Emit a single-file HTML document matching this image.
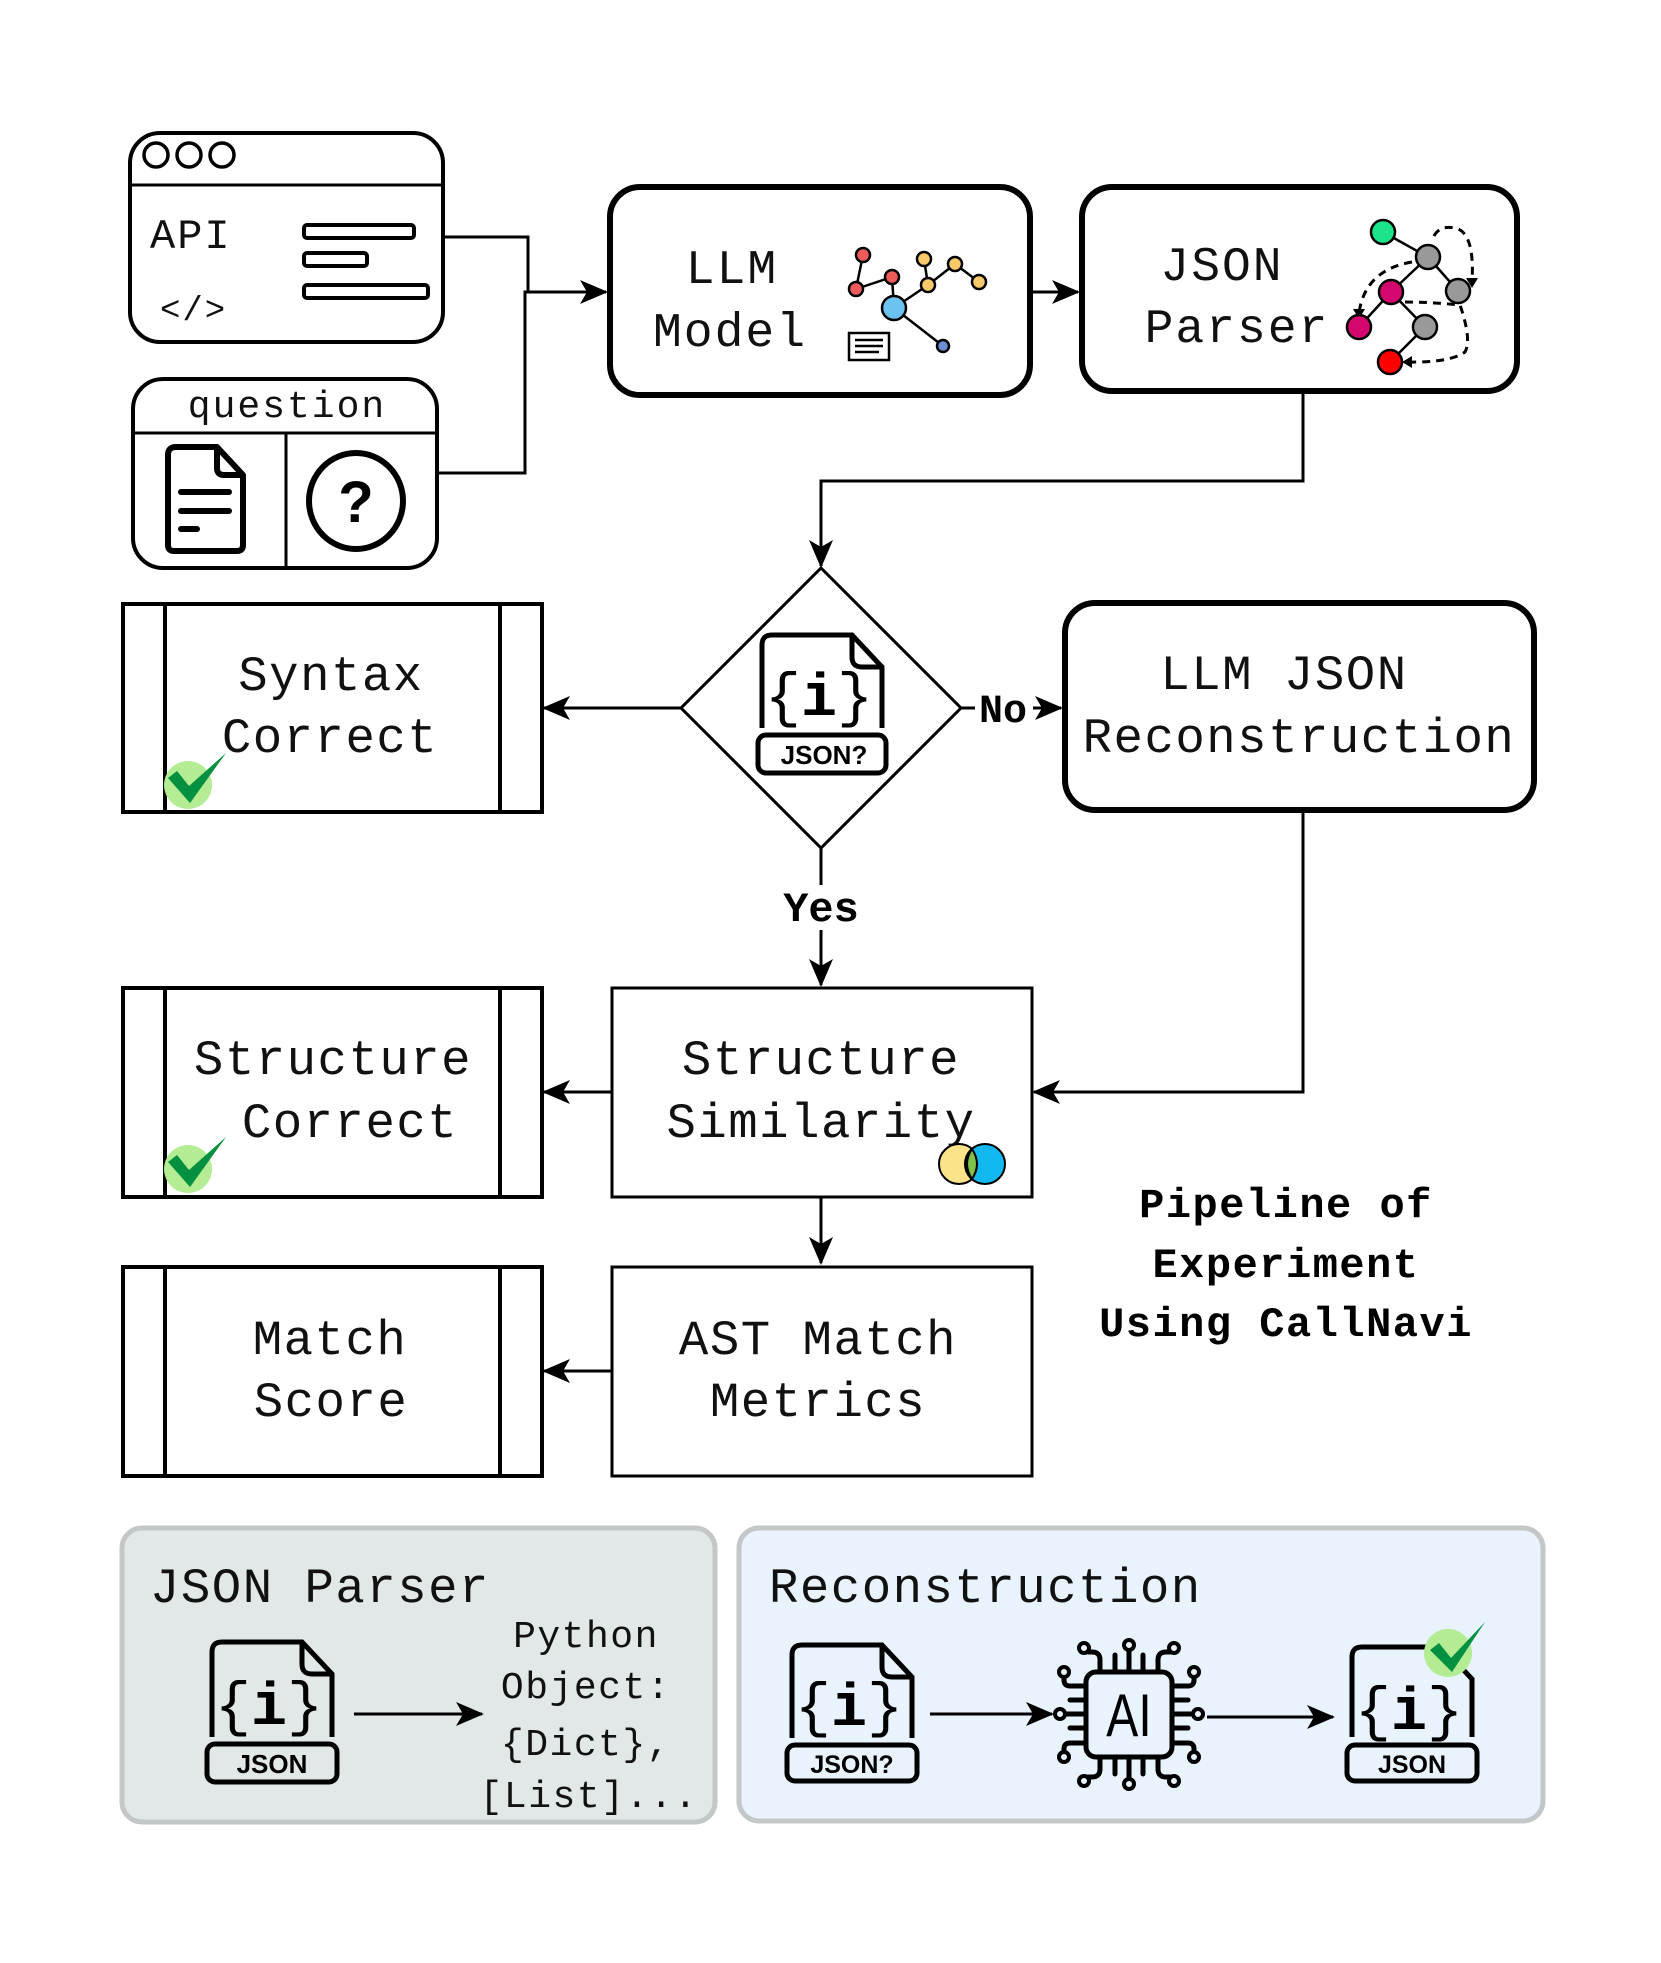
<!DOCTYPE html>
<html><head><meta charset="utf-8"><style>
html,body{margin:0;padding:0;background:#fff;}
svg{display:block;}
.m{font-family:"Liberation Mono","DejaVu Sans Mono",monospace;fill:#111;}
.b{font-family:"Liberation Mono",monospace;font-weight:bold;fill:#000;}
</style></head><body>
<svg width="1661" height="1963" viewBox="0 0 1661 1963" xmlns="http://www.w3.org/2000/svg">
<defs>
<marker id="a" markerUnits="userSpaceOnUse" markerWidth="28" markerHeight="24" refX="26" refY="12" orient="auto">
<path d="M0,0 L28,12 L0,24 L7,12 z" fill="#000"/>
</marker>
</defs>

<!-- API box -->
<rect x="130" y="133" width="313" height="209" rx="30" fill="#fff" stroke="#000" stroke-width="4"/>
<line x1="130" y1="185" x2="443" y2="185" stroke="#000" stroke-width="3"/>
<circle cx="156" cy="155" r="12" fill="none" stroke="#000" stroke-width="3.5"/>
<circle cx="189" cy="155" r="12" fill="none" stroke="#000" stroke-width="3.5"/>
<circle cx="222" cy="155" r="12" fill="none" stroke="#000" stroke-width="3.5"/>
<text class="m" x="150" y="248" font-size="42" letter-spacing="2">API</text>
<text class="m" x="160" y="320" font-size="34" letter-spacing="2">&lt;/&gt;</text>
<rect x="304" y="225" width="110" height="13" rx="3" fill="none" stroke="#000" stroke-width="4"/>
<rect x="304" y="253" width="63" height="13" rx="3" fill="none" stroke="#000" stroke-width="4"/>
<rect x="304" y="285" width="124" height="13" rx="3" fill="none" stroke="#000" stroke-width="4"/>

<!-- question box -->
<rect x="133" y="379" width="304" height="189" rx="30" fill="#fff" stroke="#000" stroke-width="4"/>
<line x1="133" y1="433" x2="437" y2="433" stroke="#000" stroke-width="3"/>
<line x1="286" y1="433" x2="286" y2="568" stroke="#000" stroke-width="3"/>
<text class="m" x="287" y="417" font-size="38" text-anchor="middle" letter-spacing="2">question</text>
<path d="M168,545 V455 Q168,447 176,447 H217 L243,475 V545 Q243,551 237,551 H174 Q168,551 168,545 z" fill="none" stroke="#000" stroke-width="6" stroke-linejoin="round"/>
<path d="M217,447 V468 Q217,475 224,475 H243" fill="none" stroke="#000" stroke-width="6" stroke-linejoin="round"/>
<line x1="181" y1="492" x2="229" y2="492" stroke="#000" stroke-width="6" stroke-linecap="round"/>
<line x1="181" y1="511" x2="229" y2="511" stroke="#000" stroke-width="6" stroke-linecap="round"/>
<line x1="181" y1="529" x2="197" y2="529" stroke="#000" stroke-width="6" stroke-linecap="round"/>
<ellipse cx="356" cy="501" rx="47" ry="48" fill="none" stroke="#000" stroke-width="6"/>
<text x="356" y="522" font-family="Liberation Sans,sans-serif" font-weight="bold" font-size="58" text-anchor="middle">?</text>

<!-- connectors to LLM -->
<polyline points="443,237 528,237 528,292" fill="none" stroke="#000" stroke-width="3"/>
<polyline points="437,473 525,473 525,292 606,292" fill="none" stroke="#000" stroke-width="3" marker-end="url(#a)"/>

<!-- LLM Model -->
<rect x="610" y="187" width="420" height="208" rx="30" fill="#fff" stroke="#000" stroke-width="6"/>
<text class="m" x="732" y="283" font-size="48" text-anchor="middle" letter-spacing="2">LLM</text>
<text class="m" x="730" y="346" font-size="48" text-anchor="middle" letter-spacing="2">Model</text>
<g stroke="#000" stroke-width="2.5">
<line x1="863" y1="255" x2="856" y2="289"/>
<line x1="856" y1="289" x2="892" y2="277"/>
<line x1="892" y1="277" x2="894" y2="308"/>
<line x1="894" y1="308" x2="928" y2="285"/>
<line x1="928" y1="285" x2="924" y2="259"/>
<line x1="928" y1="285" x2="955" y2="264"/>
<line x1="955" y1="264" x2="979" y2="282"/>
<line x1="894" y1="308" x2="943" y2="346"/>
</g>
<g stroke="#000" stroke-width="2.5">
<circle cx="863" cy="255" r="7" fill="#ee5b5b"/>
<circle cx="856" cy="289" r="7" fill="#ee5b5b"/>
<circle cx="892" cy="277" r="7" fill="#ee5b5b"/>
<circle cx="924" cy="259" r="7" fill="#f7c96b"/>
<circle cx="955" cy="264" r="7" fill="#f7c96b"/>
<circle cx="979" cy="282" r="7" fill="#f7c96b"/>
<circle cx="928" cy="285" r="7" fill="#f7c96b"/>
<circle cx="894" cy="308" r="12" fill="#6cc3ef"/>
<circle cx="943" cy="346" r="6" fill="#6b8fd0"/>
</g>
<rect x="849" y="333" width="40" height="27" fill="#fff" stroke="#000" stroke-width="2.5"/>
<g stroke="#000" stroke-width="2.5"><line x1="855" y1="340" x2="883" y2="340"/><line x1="855" y1="346" x2="883" y2="346"/><line x1="855" y1="352" x2="879" y2="352"/></g>

<!-- arrow LLM -> JSON parser -->
<line x1="1030" y1="292" x2="1078" y2="292" stroke="#000" stroke-width="3" marker-end="url(#a)"/>

<!-- JSON Parser -->
<rect x="1082" y="187" width="435" height="204" rx="30" fill="#fff" stroke="#000" stroke-width="6"/>
<text class="m" x="1222" y="280" font-size="48" text-anchor="middle" letter-spacing="2">JSON</text>
<text class="m" x="1237" y="342" font-size="48" text-anchor="middle" letter-spacing="2">Parser</text>
<g stroke="#000" stroke-width="2.5" fill="none">
<line x1="1383" y1="232" x2="1428" y2="257"/>
<line x1="1428" y1="257" x2="1391" y2="292"/>
<line x1="1428" y1="257" x2="1458" y2="291"/>
<line x1="1391" y1="292" x2="1359" y2="327"/>
<line x1="1391" y1="292" x2="1425" y2="327"/>
<line x1="1425" y1="327" x2="1390" y2="362"/>
<path d="M1434,236 Q1440,225 1455,228 Q1475,232 1472,282" stroke-dasharray="8,6" stroke-width="3"/>
<path d="M1412,262 Q1365,270 1359,313" stroke-dasharray="8,6" stroke-width="3"/>
<path d="M1405,302 Q1430,302 1460,305 Q1472,340 1465,352 Q1450,363 1405,362" stroke-dasharray="8,6" stroke-width="3"/>
</g>
<path d="M1466,278 L1478,278 L1472,288 z M1353,309 L1365,309 L1359,319 z M1402,362 L1412,356 L1412,368 z" fill="#000"/>
<g stroke="#000" stroke-width="2.5">
<circle cx="1383" cy="232" r="12" fill="#1de38a"/>
<circle cx="1428" cy="257" r="12" fill="#999"/>
<circle cx="1391" cy="292" r="12" fill="#d4076f"/>
<circle cx="1458" cy="291" r="12" fill="#999"/>
<circle cx="1359" cy="327" r="12" fill="#d4076f"/>
<circle cx="1425" cy="327" r="12" fill="#999"/>
<circle cx="1390" cy="362" r="12" fill="#ff0000"/>
</g>

<!-- JSON parser -> diamond -->
<polyline points="1303,391 1303,481 821,481 821,566" fill="none" stroke="#000" stroke-width="3" marker-end="url(#a)"/>

<!-- Diamond -->
<polygon points="821,568 961,708 821,848 681,708" fill="#fff" stroke="#000" stroke-width="3"/>
<g transform="translate(762,635)">
<path d="M0,93 V10 Q0,0 10,0 H90 L120,32 V93" fill="none" stroke="#000" stroke-width="5"/>
<path d="M90,0 V22 Q90,32 100,32 H120" fill="none" stroke="#000" stroke-width="5"/>
<text x="57" y="80" font-family="Liberation Mono,monospace" font-size="60" text-anchor="middle">{<tspan font-weight="bold">i</tspan>}</text>
<rect x="-4" y="100" width="128" height="38" rx="8" fill="#fff" stroke="#000" stroke-width="5"/>
<text x="62" y="129" font-family="Liberation Sans,sans-serif" font-weight="bold" font-size="26" text-anchor="middle">JSON?</text>
</g>

<!-- diamond -> Syntax -->
<line x1="681" y1="708" x2="544" y2="708" stroke="#000" stroke-width="3" marker-end="url(#a)"/>

<!-- Syntax Correct -->
<rect x="123" y="604" width="419" height="208" fill="#fff" stroke="#000" stroke-width="4"/>
<line x1="165" y1="604" x2="165" y2="812" stroke="#000" stroke-width="4"/>
<line x1="500" y1="604" x2="500" y2="812" stroke="#000" stroke-width="4"/>
<text class="m" x="331" y="690" font-size="49" text-anchor="middle" letter-spacing="1.5">Syntax</text>
<text class="m" x="330" y="752" font-size="49" text-anchor="middle" letter-spacing="1.5">Correct</text>
<circle cx="188" cy="785" r="24" fill="#b3ec93"/>
<polygon points="168,778 177,771 189,786 226,753 190,803" fill="#009040"/>

<!-- No -->
<line x1="961" y1="708" x2="1061" y2="708" stroke="#000" stroke-width="3" marker-end="url(#a)"/>
<rect x="975" y="690" width="58" height="38" fill="#fff"/>
<text class="b" x="1003" y="722" font-size="40" text-anchor="middle">No</text>

<!-- LLM JSON Reconstruction -->
<rect x="1065" y="603" width="469" height="207" rx="30" fill="#fff" stroke="#000" stroke-width="6"/>
<text class="m" x="1284" y="689" font-size="49" text-anchor="middle" letter-spacing="1.5">LLM JSON</text>
<text class="m" x="1299" y="752" font-size="49" text-anchor="middle" letter-spacing="1.5">Reconstruction</text>

<!-- Yes -->
<line x1="821" y1="848" x2="821" y2="985" stroke="#000" stroke-width="3" marker-end="url(#a)"/>
<rect x="770" y="885" width="102" height="45" fill="#fff"/>
<text class="b" x="821" y="921" font-size="42" text-anchor="middle">Yes</text>

<!-- reconstruction -> SS -->
<polyline points="1303,810 1303,1092 1034,1092" fill="none" stroke="#000" stroke-width="3" marker-end="url(#a)"/>

<!-- Structure Similarity -->
<rect x="612" y="988" width="420" height="209" fill="#fff" stroke="#000" stroke-width="3"/>
<text class="m" x="821" y="1074" font-size="49" text-anchor="middle" letter-spacing="1.5">Structure</text>
<text class="m" x="821" y="1137" font-size="49" text-anchor="middle" letter-spacing="1.5">Similarity</text>
<circle cx="959" cy="1164" r="20" fill="#fbe38a" stroke="#000" stroke-width="2"/>
<circle cx="985" cy="1164" r="20" fill="#12b8f0" stroke="#000" stroke-width="2"/>
<path d="M972,1149 Q962,1164 972,1179 Q982,1164 972,1149 z" fill="#7fc24a" stroke="#000" stroke-width="2"/>

<!-- SS -> Structure Correct -->
<line x1="612" y1="1092" x2="544" y2="1092" stroke="#000" stroke-width="3" marker-end="url(#a)"/>

<!-- Structure Correct -->
<rect x="123" y="988" width="419" height="209" fill="#fff" stroke="#000" stroke-width="4"/>
<line x1="165" y1="988" x2="165" y2="1197" stroke="#000" stroke-width="4"/>
<line x1="500" y1="988" x2="500" y2="1197" stroke="#000" stroke-width="4"/>
<text class="m" x="333" y="1074" font-size="49" text-anchor="middle" letter-spacing="1.5">Structure</text>
<text class="m" x="350" y="1137" font-size="49" text-anchor="middle" letter-spacing="1.5">Correct</text>
<circle cx="188" cy="1169" r="24" fill="#b3ec93"/>
<polygon points="168,1162 177,1155 189,1170 226,1137 190,1187" fill="#009040"/>

<!-- SS -> AST -->
<line x1="821" y1="1197" x2="821" y2="1263" stroke="#000" stroke-width="3" marker-end="url(#a)"/>

<!-- AST Match -->
<rect x="612" y="1267" width="420" height="209" fill="#fff" stroke="#000" stroke-width="3"/>
<text class="m" x="818" y="1354" font-size="49" text-anchor="middle" letter-spacing="1.5">AST Match</text>
<text class="m" x="818" y="1416" font-size="49" text-anchor="middle" letter-spacing="1.5">Metrics</text>
<line x1="612" y1="1371" x2="544" y2="1371" stroke="#000" stroke-width="3" marker-end="url(#a)"/>

<!-- Match Score -->
<rect x="123" y="1267" width="419" height="209" fill="#fff" stroke="#000" stroke-width="4"/>
<line x1="165" y1="1267" x2="165" y2="1476" stroke="#000" stroke-width="4"/>
<line x1="500" y1="1267" x2="500" y2="1476" stroke="#000" stroke-width="4"/>
<text class="m" x="330" y="1354" font-size="49" text-anchor="middle" letter-spacing="1.5">Match</text>
<text class="m" x="331" y="1416" font-size="49" text-anchor="middle" letter-spacing="1.5">Score</text>

<!-- Pipeline title -->
<text class="b" x="1286" y="1217" font-size="42" text-anchor="middle" letter-spacing="1.5">Pipeline of</text>
<text class="b" x="1286" y="1277" font-size="42" text-anchor="middle" letter-spacing="1.5">Experiment</text>
<text class="b" x="1286" y="1336" font-size="42" text-anchor="middle" letter-spacing="1.5">Using CallNavi</text>

<!-- Bottom left panel -->
<rect x="122" y="1528" width="593" height="294" rx="20" fill="#e1e8e7" stroke="#c3c7c7" stroke-width="5"/>
<text class="m" x="150" y="1602" font-size="49" letter-spacing="1.5">JSON Parser</text>
<g transform="translate(212,1642)">
<path d="M0,95 V10 Q0,0 10,0 H90 L120,32 V95" fill="none" stroke="#000" stroke-width="5"/>
<path d="M90,0 V22 Q90,32 100,32 H120" fill="none" stroke="#000" stroke-width="5"/>
<text x="57" y="82" font-family="Liberation Mono,monospace" font-size="60" text-anchor="middle">{<tspan font-weight="bold">i</tspan>}</text>
<rect x="-5" y="102" width="130" height="38" rx="8" fill="none" stroke="#000" stroke-width="5"/>
<text x="60" y="131" font-family="Liberation Sans,sans-serif" font-weight="bold" font-size="26" text-anchor="middle">JSON</text>
</g>
<line x1="354" y1="1714" x2="482" y2="1714" stroke="#000" stroke-width="3" marker-end="url(#a)"/>
<g class="m" font-size="38" text-anchor="middle" letter-spacing="1.5">
<text class="m" x="586" y="1647">Python</text>
<text class="m" x="586" y="1698">Object:</text>
<text class="m" x="586" y="1755">{Dict},</text>
<text class="m" x="589" y="1807">[List]...</text>
</g>

<!-- Bottom right panel -->
<rect x="739" y="1528" width="804" height="293" rx="20" fill="#e9f3fd" stroke="#c3c7c7" stroke-width="5"/>
<text class="m" x="769" y="1602" font-size="49" letter-spacing="1.5">Reconstruction</text>
<g transform="translate(792,1645)">
<path d="M0,93 V10 Q0,0 10,0 H90 L120,32 V93" fill="none" stroke="#000" stroke-width="5"/>
<path d="M90,0 V22 Q90,32 100,32 H120" fill="none" stroke="#000" stroke-width="5"/>
<text x="57" y="80" font-family="Liberation Mono,monospace" font-size="60" text-anchor="middle">{<tspan font-weight="bold">i</tspan>}</text>
<rect x="-5" y="100" width="130" height="36" rx="8" fill="none" stroke="#000" stroke-width="5"/>
<text x="60" y="128" font-family="Liberation Sans,sans-serif" font-weight="bold" font-size="25" text-anchor="middle">JSON?</text>
</g>
<line x1="930" y1="1714" x2="1052" y2="1714" stroke="#000" stroke-width="3" marker-end="url(#a)"/>
<!-- AI chip -->
<g stroke="#000" stroke-width="5" fill="none" stroke-linecap="round">
<rect x="1086" y="1672" width="86" height="85" rx="10"/>
<line x1="1115" y1="1672" x2="1115" y2="1655"/><line x1="1143" y1="1672" x2="1143" y2="1655"/>
<line x1="1129" y1="1672" x2="1129" y2="1650"/>
<line x1="1115" y1="1757" x2="1115" y2="1774"/><line x1="1143" y1="1757" x2="1143" y2="1774"/>
<line x1="1129" y1="1757" x2="1129" y2="1779"/>
<path d="M1100,1672 V1660 Q1100,1652 1092,1652 H1088"/>
<path d="M1158,1672 V1660 Q1158,1652 1166,1652 H1170"/>
<path d="M1100,1757 V1769 Q1100,1777 1092,1777 H1088"/>
<path d="M1158,1757 V1769 Q1158,1777 1166,1777 H1170"/>
<line x1="1086" y1="1700" x2="1070" y2="1700"/><line x1="1086" y1="1728" x2="1070" y2="1728"/>
<line x1="1086" y1="1714" x2="1065" y2="1714"/>
<line x1="1172" y1="1700" x2="1188" y2="1700"/><line x1="1172" y1="1728" x2="1188" y2="1728"/>
<line x1="1172" y1="1714" x2="1193" y2="1714"/>
<path d="M1086,1686 H1070 Q1064,1686 1064,1680 V1678"/>
<path d="M1172,1686 H1188 Q1194,1686 1194,1680 V1678"/>
<path d="M1086,1743 H1070 Q1064,1743 1064,1749 V1751"/>
<path d="M1172,1743 H1188 Q1194,1743 1194,1749 V1751"/>
</g>
<g fill="#e9f3fd" stroke="#000" stroke-width="4">
<circle cx="1084" cy="1648" r="5"/><circle cx="1129" cy="1645" r="5"/><circle cx="1174" cy="1648" r="5"/>
<circle cx="1084" cy="1781" r="5"/><circle cx="1129" cy="1784" r="5"/><circle cx="1174" cy="1781" r="5"/>
<circle cx="1064" cy="1672" r="5"/><circle cx="1194" cy="1672" r="5"/>
<circle cx="1064" cy="1757" r="5"/><circle cx="1194" cy="1757" r="5"/>
<circle cx="1060" cy="1714" r="5"/><circle cx="1198" cy="1714" r="5"/>
</g>
<text x="1129" y="1736" font-family="Liberation Sans,sans-serif" font-size="60" text-anchor="middle" transform="translate(1129,0) scale(0.8,1) translate(-1129,0)">AI</text>
<line x1="1207" y1="1717" x2="1333" y2="1717" stroke="#000" stroke-width="3" marker-end="url(#a)"/>
<g transform="translate(1352,1647)">
<path d="M0,90 V10 Q0,0 10,0 H90 L120,32 V90" fill="none" stroke="#000" stroke-width="5"/>
<text x="57" y="82" font-family="Liberation Mono,monospace" font-size="60" text-anchor="middle">{<tspan font-weight="bold">i</tspan>}</text>
<rect x="-5" y="98" width="130" height="36" rx="8" fill="none" stroke="#000" stroke-width="5"/>
<text x="60" y="126" font-family="Liberation Sans,sans-serif" font-weight="bold" font-size="25" text-anchor="middle">JSON</text>
</g>
<circle cx="1448" cy="1653" r="24" fill="#b3ec93"/>
<polygon points="1430,1650 1439,1643 1451,1658 1485,1622 1452,1672" fill="#009040"/>
</svg>
</body></html>
